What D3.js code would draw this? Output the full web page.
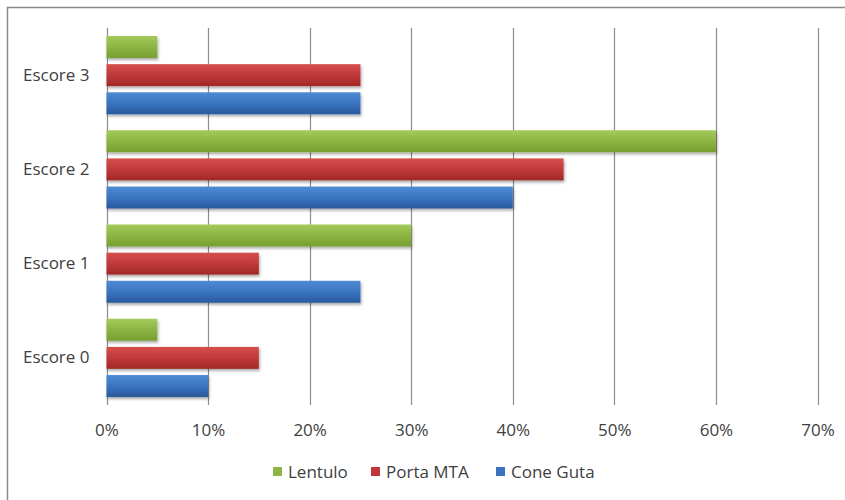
<!DOCTYPE html>
<html><head><meta charset="utf-8">
<script src="https://cdn.jsdelivr.net/npm/d3@7"></script>
<style>body{margin:0;background:#fff}svg{display:block}</style>
</head><body>
<svg id="chart" width="845" height="500"></svg>
<script>
const categories = ["Escore 0", "Escore 1", "Escore 2", "Escore 3"];
const seriesNames = ["Lentulo", "Porta MTA", "Cone Guta"];
const lentulo = [5, 30, 60, 5];
const portaMTA = [15, 15, 45, 25];
const coneGuta = [10, 25, 40, 25];
const xTicks = [0, 10, 20, 30, 40, 50, 60, 70];
const seriesColors = [
  ["#a3cb5a", "#8cb544", "#769f30"],
  ["#d5504d", "#c0393a", "#a02826"],
  ["#4f8ad3", "#3a74c1", "#29599d"]
];

(function () {
const values = [lentulo, portaMTA, coneGuta];
const svg = d3.select("#chart");
const font = "'Open Sans', sans-serif";
const fs = 17;

svg.append("rect").attr("x", 7.5).attr("y", 7.5).attr("width", 860).attr("height", 520)
  .attr("fill", "#fff").attr("stroke", "#8a8a8a").attr("stroke-width", 1.5);

const pLeft = 106.5, pRight = 817.5, pTop = 28, pBottom = 405;
const x = d3.scaleLinear().domain([0, 70]).range([pLeft, pRight]);
const y = d3.scaleBand().domain(categories.slice().reverse()).range([pTop, pBottom]).paddingInner(0.17).paddingOuter(0.085);
const yi = d3.scaleBand().domain(seriesNames).range([0, y.bandwidth()]).paddingInner(0.22).paddingOuter(0);

const defs = svg.append("defs");
seriesColors.forEach((c, i) => {
  const g = defs.append("linearGradient").attr("id", "g" + i).attr("x1", 0).attr("y1", 0).attr("x2", 0).attr("y2", 1);
  g.append("stop").attr("offset", "0%").attr("stop-color", c[0]);
  g.append("stop").attr("offset", "50%").attr("stop-color", c[1]);
  g.append("stop").attr("offset", "100%").attr("stop-color", c[2]);
});
const f = defs.append("filter").attr("id", "sh").attr("x", "-5%").attr("y", "-20%").attr("width", "115%").attr("height", "160%");
f.append("feGaussianBlur").attr("in", "SourceAlpha").attr("stdDeviation", 1.5);
f.append("feOffset").attr("dx", 1).attr("dy", 2).attr("result", "ob");
f.append("feComponentTransfer").append("feFuncA").attr("type", "linear").attr("slope", 0.35);
const m = f.append("feMerge");
m.append("feMergeNode");
m.append("feMergeNode").attr("in", "SourceGraphic");

svg.append("g").selectAll("line").data(xTicks).join("line")
  .attr("x1", d => Math.round(x(d)) + 0.5).attr("x2", d => Math.round(x(d)) + 0.5)
  .attr("y1", pTop).attr("y2", pBottom)
  .attr("stroke", "#8c8c8c").attr("stroke-width", 1.2);

const groups = svg.append("g").selectAll("g").data(categories).join("g")
  .attr("transform", d => `translate(0,${y(d)})`);
groups.selectAll("rect").data((c, ci) => seriesNames.map((s, si) => ({s, si, v: values[si][ci]}))).join("rect")
  .attr("x", x(0))
  .attr("y", d => yi(d.s))
  .attr("width", d => x(d.v) - x(0))
  .attr("height", yi.bandwidth())
  .attr("fill", d => `url(#g${d.si})`)
  .attr("filter", "url(#sh)");

const xAxis = d3.axisBottom(x).tickValues(xTicks).tickFormat(d => d + "%").tickSize(0).tickPadding(19);
const gx = svg.append("g").attr("transform", `translate(0,${pBottom})`).call(xAxis);
gx.select(".domain").remove();
gx.selectAll("text").attr("font-family", font).attr("font-size", fs).attr("fill", "#404040");

const yAxis = d3.axisLeft(y).tickSize(0).tickPadding(17);
const gy = svg.append("g").attr("transform", `translate(${pLeft},0)`).call(yAxis);
gy.select(".domain").remove();
gy.selectAll("text").attr("font-family", font).attr("font-size", fs).attr("fill", "#404040");

const legendX = [273, 371, 496];
const lg = svg.append("g").selectAll("g").data(seriesNames).join("g")
  .attr("transform", (d, i) => `translate(${legendX[i]},472)`);
lg.append("rect").attr("x", 0).attr("y", -5).attr("width", 9).attr("height", 9)
  .attr("fill", (d, i) => seriesColors[i][1]);
lg.append("text").attr("x", 15).attr("y", 0).attr("dy", "0.35em")
  .attr("font-family", font).attr("font-size", fs).attr("fill", "#404040").text(d => d);
})();
</script>
</body></html>
